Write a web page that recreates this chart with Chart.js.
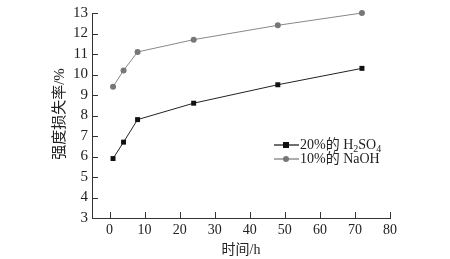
<!DOCTYPE html>
<html lang="zh">
<head>
  <meta charset="UTF-8" />
  <title>强度损失率</title>
  <script src="https://cdn.jsdelivr.net/npm/chart.js"></script>
  <style>
    body { margin: 0; background: #fff; }
    .wrap { width: 450px; height: 259px; }
  </style>
</head>
<body>
  <div class="wrap"><canvas id="c" width="450" height="259"></canvas></div>
  <script>
    const hours = [1, 4, 8, 24, 48, 72];
    const h2so4 = [5.9, 6.7, 7.8, 8.6, 9.5, 10.3];
    const naoh = [9.4, 10.2, 11.1, 11.7, 12.4, 13.0];
    const xTicks = [0, 10, 20, 30, 40, 50, 60, 70, 80];
    const yTicks = [3, 4, 5, 6, 7, 8, 9, 10, 11, 12, 13];

    const serif = '"Liberation Serif", "DejaVu Serif", "Noto Sans CJK SC", serif';
    const axisColor = '#333';

    // ticks pointing inward + axis titles + legend
    const decoPlugin = {
      id: 'deco',
      afterDraw(chart) {
        const ctx = chart.ctx;
        const xs = chart.scales.x, ys = chart.scales.y;
        const a = chart.chartArea;
        ctx.save();
        ctx.strokeStyle = axisColor;
        ctx.lineWidth = 1;
        for (const v of xTicks) {
          const px = Math.round(xs.getPixelForValue(v)) + 0.5;
          ctx.beginPath();
          ctx.moveTo(px, a.bottom);
          ctx.lineTo(px, a.bottom - 6);
          ctx.stroke();
        }
        for (const v of yTicks) {
          const py = Math.round(ys.getPixelForValue(v)) + 0.5;
          ctx.beginPath();
          ctx.moveTo(a.left, py);
          ctx.lineTo(a.left + 6, py);
          ctx.stroke();
        }

        ctx.fillStyle = '#222';
        ctx.font = '14px ' + serif;
        ctx.textAlign = 'center';
        ctx.textBaseline = 'middle';
        ctx.fillText('时间/h', 241, 250);

        ctx.save();
        ctx.translate(60, 114);
        ctx.rotate(-Math.PI / 2);
        ctx.font = '15px ' + serif;
        ctx.fillText('强度损失率/%', 0, 0);
        ctx.restore();

        // legend
        const rows = [
          { color: '#111', shape: 'square', parts: [['20%的 H', 0], ['2', 1], ['SO', 0], ['4', 1]], y: 145 },
          { color: '#777', shape: 'circle', parts: [['10%的 NaOH', 0]], y: 159 }
        ];
        rows.forEach(r => {
          ctx.strokeStyle = r.color;
          ctx.fillStyle = r.color;
          ctx.lineWidth = 1.2;
          ctx.beginPath();
          ctx.moveTo(274, r.y);
          ctx.lineTo(299, r.y);
          ctx.stroke();
          if (r.shape === 'square') {
            ctx.fillRect(283, r.y - 3, 6, 6);
          } else {
            ctx.beginPath();
            ctx.arc(286, r.y, 3, 0, Math.PI * 2);
            ctx.fill();
          }
          ctx.fillStyle = '#222';
          ctx.textAlign = 'left';
          ctx.textBaseline = 'middle';
          let x = 300;
          r.parts.forEach(([t, sub]) => {
            ctx.font = (sub ? '10px ' : '14px ') + serif;
            ctx.fillText(t, x, r.y + (sub ? 4 : 0));
            x += ctx.measureText(t).width;
          });
        });
        ctx.restore();
      }
    };

    new Chart(document.getElementById('c'), {
      type: 'line',
      data: {
        datasets: [
          {
            label: '20%的 H2SO4',
            data: hours.map((h, i) => ({ x: h, y: h2so4[i] })),
            borderColor: '#222',
            backgroundColor: '#111',
            borderWidth: 1,
            pointStyle: 'rect',
            pointRadius: 3.5,
            pointBorderWidth: 0,
            clip: false
          },
          {
            label: '10%的 NaOH',
            data: hours.map((h, i) => ({ x: h, y: naoh[i] })),
            borderColor: '#888',
            backgroundColor: '#777',
            borderWidth: 1,
            pointStyle: 'circle',
            pointRadius: 3,
            pointBorderWidth: 0,
            clip: false
          }
        ]
      },
      options: {
        responsive: false,
        animation: false,
        layout: { padding: { left: 0, right: 60, top: 13, bottom: 0 } },
        plugins: { legend: { display: false }, tooltip: { enabled: false } },
        scales: {
          x: {
            type: 'linear',
            min: -5,
            max: 80,
            afterBuildTicks: s => { s.ticks = xTicks.map(v => ({ value: v })); },
            afterFit: s => { s.height = 41; },
            grid: { display: false, drawTicks: false },
            border: { display: true, color: axisColor, width: 1 },
            ticks: { autoSkip: false, padding: 4, color: '#222', font: { family: serif, size: 14 } }
          },
          y: {
            min: 3,
            max: 13,
            afterBuildTicks: s => { s.ticks = yTicks.map(v => ({ value: v })); },
            afterFit: s => { s.width = 92; },
            grid: { display: false, drawTicks: false },
            border: { display: true, color: axisColor, width: 1 },
            ticks: { autoSkip: false, padding: 4, color: '#222', font: { family: serif, size: 15 } }
          }
        }
      },
      plugins: [decoPlugin]
    });
  </script>
</body>
</html>
